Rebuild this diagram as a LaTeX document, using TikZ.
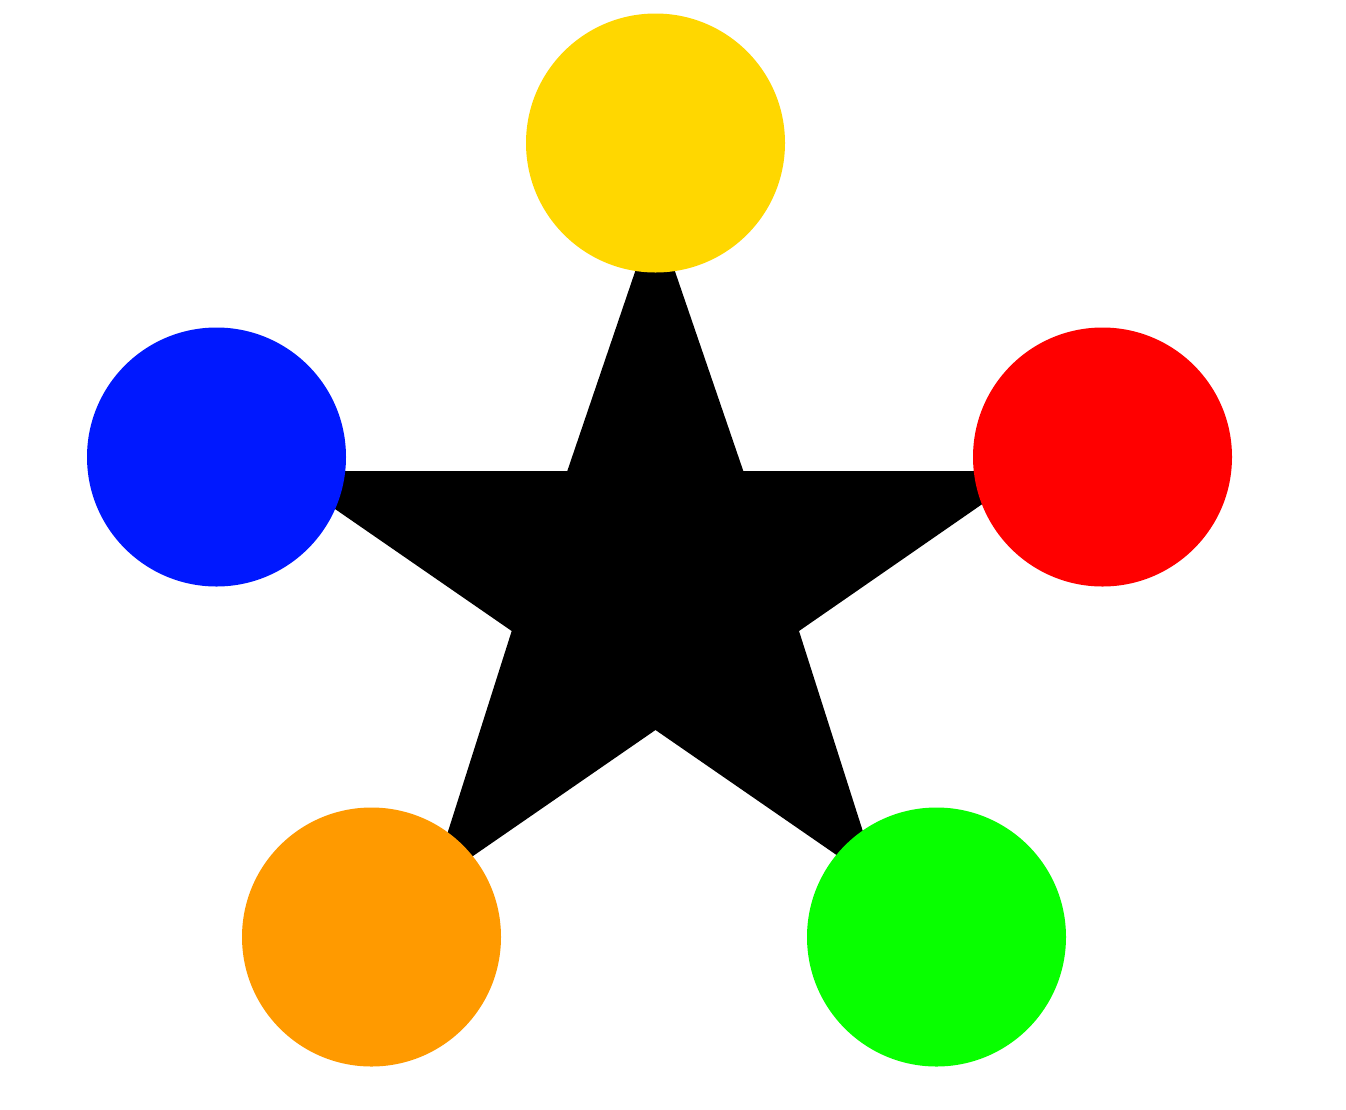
\documentclass[tikz,border=0pt]{standalone}
\definecolor{cyellow}{RGB}{255,215,0}
\definecolor{cblue}{RGB}{0,24,255}
\definecolor{cred}{RGB}{255,0,0}
\definecolor{corange}{RGB}{255,154,0}
\definecolor{cgreen}{RGB}{8,255,0}
\begin{document}
\begin{tikzpicture}[x=1pt,y=-1pt,
  ball/.style={circle,inner sep=0pt,minimum size=259pt,draw=none,fill=#1}]
\useasboundingbox (0,0) rectangle (1346,1109);
\fill[black] (655,213) -- (743.3,471) -- (1030,471) -- (799,631) -- (880,885)
  -- (655.5,730) -- (431,885) -- (511.7,631) -- (280,471) -- (567.3,471) -- cycle;
\node[ball=cyellow] (top) at (655.5,143) {};
\node[ball=cblue] (left) at (216.5,457) {};
\node[ball=cred] (right) at (1102.5,457) {};
\node[ball=corange] (botleft) at (371.5,937) {};
\node[ball=cgreen] (botright) at (936.5,937) {};
\end{tikzpicture}
\end{document}
